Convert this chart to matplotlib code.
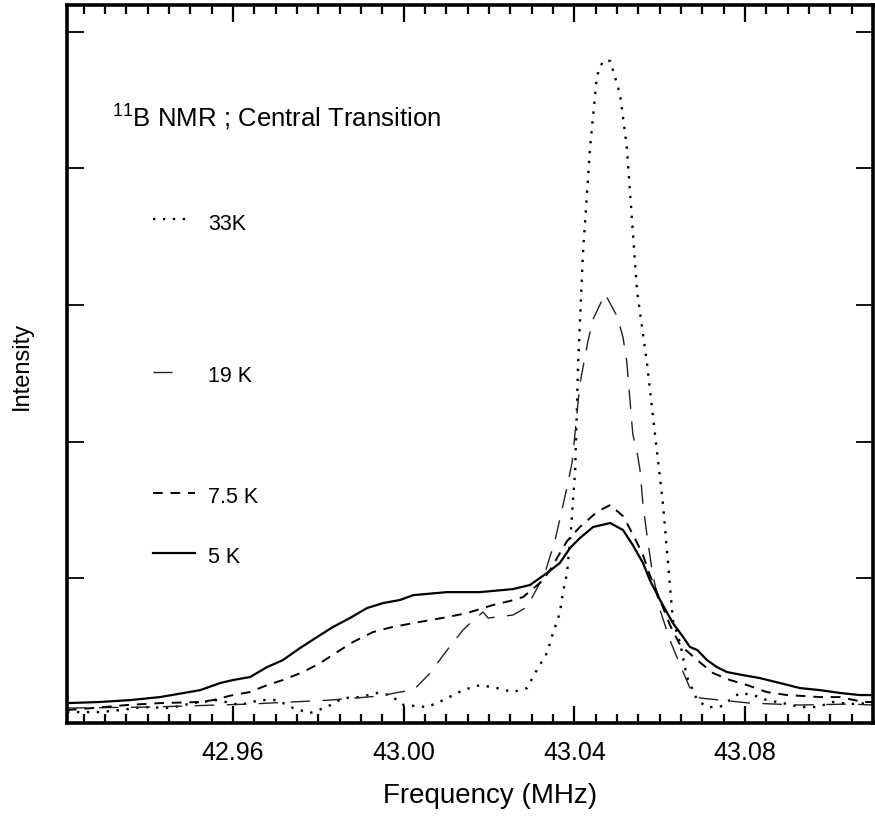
import matplotlib
matplotlib.use("Agg")
import matplotlib.pyplot as plt
from matplotlib.ticker import FixedLocator, NullFormatter

plt.rcParams["font.family"] = ["Liberation Sans", "DejaVu Sans"]
plt.rcParams["mathtext.fontset"] = "custom"
plt.rcParams["mathtext.rm"] = "Liberation Sans"
plt.rcParams.update({
    "xtick.direction": "in", "ytick.direction": "in",
    "xtick.top": True, "xtick.bottom": True,
    "ytick.left": True, "ytick.right": True,
    "xtick.major.size": 12, "xtick.minor.size": 6.5,
    "xtick.major.width": 1.6, "xtick.minor.width": 1.6,
    "ytick.major.size": 12, "ytick.major.width": 1.3,
    "xtick.labelsize": 18, "xtick.major.pad": 13,
})

# 5 K (solid)
f_5k = [42.9211, 42.9288, 42.9359, 42.9429, 42.9523, 42.9570, 42.9600, 42.9640,
        42.9680, 42.9717, 42.9757, 42.9797, 42.9834, 42.9874, 42.9914, 42.9952,
        42.9991, 43.0023, 43.0102, 43.0179, 43.0256, 43.0296, 43.0336, 43.0366,
        43.0390, 43.0413, 43.0444, 43.0484, 43.0514, 43.0537, 43.0561, 43.0577,
        43.0601, 43.0631, 43.0655, 43.0671, 43.0688, 43.0711, 43.0734, 43.0758,
        43.0795, 43.0835, 43.0882, 43.0929, 43.0976, 43.1023, 43.1069, 43.1100]
i_5k = [0.084, 0.092, 0.106, 0.128, 0.179, 0.231, 0.253, 0.275, 0.348, 0.399,
        0.487, 0.568, 0.641, 0.707, 0.780, 0.817, 0.839, 0.875, 0.897, 0.897,
        0.919, 0.949, 1.037, 1.110, 1.220, 1.293, 1.374, 1.403, 1.352, 1.242,
        1.110, 0.985, 0.839, 0.670, 0.568, 0.495, 0.473, 0.399, 0.348, 0.311,
        0.289, 0.267, 0.231, 0.194, 0.179, 0.158, 0.143, 0.143]

# 7.5 K (dashed)
f_75k = [42.9211, 42.9272, 42.9352, 42.9429, 42.9523, 42.9553, 42.9600, 42.9640,
         42.9680, 42.9717, 42.9764, 42.9804, 42.9844, 42.9881, 42.9928, 42.9973,
         43.0023, 43.0062, 43.0102, 43.0149, 43.0209, 43.0249, 43.0280, 43.0327,
         43.0343, 43.0383, 43.0413, 43.0453, 43.0484, 43.0514, 43.0537, 43.0561,
         43.0577, 43.0601, 43.0624, 43.0648, 43.0688, 43.0725, 43.0765, 43.0805,
         43.0851, 43.0898, 43.0936, 43.0976, 43.1023, 43.1077, 43.1100]
i_75k = [0.033, 0.048, 0.070, 0.084, 0.092, 0.106, 0.143, 0.165, 0.216, 0.253,
         0.311, 0.377, 0.458, 0.531, 0.604, 0.641, 0.670, 0.692, 0.714, 0.744,
         0.802, 0.832, 0.861, 0.985, 1.059, 1.271, 1.374, 1.484, 1.535, 1.454,
         1.322, 1.168, 1.022, 0.839, 0.656, 0.509, 0.399, 0.304, 0.253, 0.216,
         0.165, 0.143, 0.136, 0.128, 0.128, 0.092, 0.092]

# 19 K (long dash)
f_19k = [42.9211, 42.9405, 42.9640, 42.9827, 42.9945, 42.9991, 43.0023, 43.0062,
         43.0102, 43.0139, 43.0156, 43.0186, 43.0198, 43.0256, 43.0289, 43.0319,
         43.0331, 43.0355, 43.0383, 43.0395, 43.0413, 43.0432, 43.0444, 43.0472,
         43.0500, 43.0514, 43.0523, 43.0530, 43.0537, 43.0547, 43.0554, 43.0561,
         43.0570, 43.0582, 43.0601, 43.0624, 43.0648, 43.0671, 43.0695, 43.0812,
         43.0929, 43.1046, 43.1100]
i_19k = [0.048, 0.055, 0.077, 0.106, 0.136, 0.165, 0.179, 0.304, 0.473, 0.619,
         0.670, 0.751, 0.707, 0.729, 0.788, 0.963, 1.037, 1.278, 1.667, 1.850,
         2.421, 2.736, 2.897, 3.081, 2.919, 2.766, 2.582, 2.319, 2.055, 1.923,
         1.791, 1.535, 1.322, 1.059, 0.766, 0.546, 0.363, 0.194, 0.121, 0.084,
         0.070, 0.077, 0.070]

# 33 K (dotted)
f_33k = [42.9211, 42.9288, 42.9335, 42.9389, 42.9452, 42.9506, 42.9562, 42.9616,
         42.9663, 42.9703, 42.9741, 42.9780, 42.9820, 42.9858, 42.9898, 42.9938,
         42.9968, 43.0000, 43.0055, 43.0093, 43.0139, 43.0179, 43.0219, 43.0256,
         43.0289, 43.0312, 43.0336, 43.0350, 43.0366, 43.0373, 43.0383, 43.0392,
         43.0402, 43.0409, 43.0420, 43.0437, 43.0453, 43.0467, 43.0484, 43.0507,
         43.0523, 43.0535, 43.0547, 43.0570, 43.0589, 43.0608, 43.0619, 43.0631,
         43.0648, 43.0664, 43.0688, 43.0711, 43.0741, 43.0788, 43.0819, 43.0851,
         43.0889, 43.0929, 43.0969, 43.1006, 43.1046, 43.1100]
i_33k = [0.018, 0.018, 0.033, 0.055, 0.048, 0.084, 0.106, 0.070, 0.106, 0.106,
         0.048, 0.011, 0.055, 0.121, 0.128, 0.158, 0.143, 0.070, 0.055, 0.106,
         0.179, 0.216, 0.194, 0.165, 0.194, 0.326, 0.451, 0.597, 0.744, 0.890,
         1.037, 1.352, 1.791, 2.582, 3.366, 4.158, 4.678, 4.788, 4.788, 4.546,
         4.158, 3.630, 3.103, 2.582, 2.055, 1.535, 1.132, 0.692, 0.524, 0.275,
         0.106, 0.055, 0.055, 0.158, 0.143, 0.106, 0.084, 0.055, 0.055, 0.092,
         0.077, 0.084]

labels = ["33K", "19 K", "7.5 K", "5 K"]
x_ticks = [42.96, 43.00, 43.04, 43.08]
y_ticks = [1, 2, 3, 4, 5]

fig = plt.figure(figsize=(8.75, 8.25), dpi=100)
ax = fig.add_axes([0.0766, 0.1236, 0.9211, 0.8704])

st_33 = dict(color="black", lw=1.7, linestyle=(0, (1, 3.2)))
st_19 = dict(color="#222222", lw=1.0, linestyle=(0, (14, 9)))
st_75 = dict(color="black", lw=1.4, linestyle=(0, (5, 4)))
st_5 = dict(color="black", lw=1.6, linestyle="-")

ax.plot(f_33k, i_33k, **st_33)
ax.plot(f_19k, i_19k, **st_19)
ax.plot(f_75k, i_75k, **st_75)
ax.plot(f_5k, i_5k, **st_5)

ax.set_xlim(42.9211, 43.1100)
ax.set_ylim(-0.062, 5.198)

# minor ticks every 0.005 MHz
minor_x = [round(42.925 + 0.005 * k, 3) for k in range(38)]
minor_x = [v for v in minor_x if all(abs(v - m) > 1e-6 for m in x_ticks)]
ax.xaxis.set_major_locator(FixedLocator(x_ticks))
ax.xaxis.set_minor_locator(FixedLocator(minor_x))
ax.set_xticklabels([f"{v:.2f}" for v in x_ticks])
ax.yaxis.set_major_locator(FixedLocator(y_ticks))
ax.yaxis.set_major_formatter(NullFormatter())

for sp in ax.spines.values():
    sp.set_linewidth(2.6)

ax.set_xlabel("Frequency (MHz)", fontsize=20)
ax.xaxis.set_label_coords(0.525, -0.0836)
fig.text(0.025, 0.556, "Intensity", rotation=90, ha="center", va="center", fontsize=17)

ax.text(0.0558, 0.830, r"$\mathregular{^{11}}$B NMR ; Central Transition",
        transform=ax.transAxes, fontsize=18.5, ha="left", va="baseline")

# legend entries, placed by hand like the original
leg_line_y = [0.702, 0.4889, 0.3203, 0.2368]
leg_text_y = [0.6866, 0.4749, 0.3064, 0.2228]
leg_x_end = [0.1526, 0.1303, 0.1588, 0.1588]
for lab, ly, ty, xe, st in zip(labels, leg_line_y, leg_text_y, leg_x_end,
                               [st_33, st_19, st_75, st_5]):
    ax.plot([0.1067, xe], [ly, ly], transform=ax.transAxes, **st)
    ax.text(0.175, ty, lab, transform=ax.transAxes, fontsize=15.5,
            ha="left", va="baseline")

fig.savefig("out.png", dpi=100)
